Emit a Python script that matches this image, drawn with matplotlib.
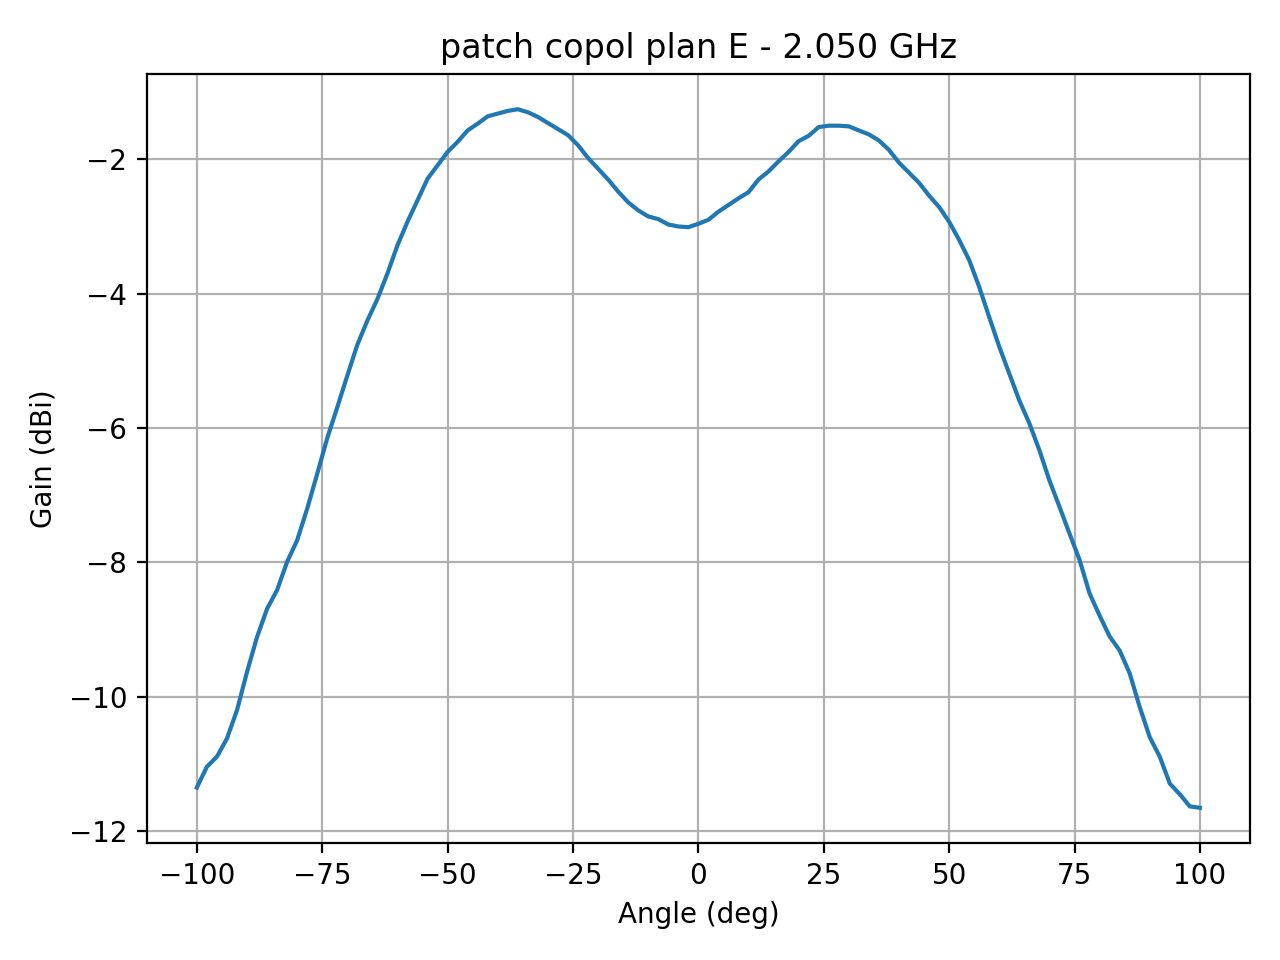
import matplotlib
matplotlib.use('Agg')
from matplotlib import pyplot as plt
import numpy as np

# angle (deg), every 2 deg
angle = list(range(-100, 101, 2))

gain = [-11.35, -11.04, -10.89, -10.62, -10.20, -9.63, -9.11, -8.69, -8.41, -7.99,
        -7.67, -7.20, -6.68, -6.15, -5.69, -5.22, -4.76, -4.40, -4.08, -3.70,
        -3.28, -2.93, -2.61, -2.29, -2.09, -1.89, -1.74, -1.57, -1.47, -1.36,
        -1.32, -1.28, -1.255, -1.30, -1.37, -1.46, -1.55, -1.64, -1.79, -1.98,
        -2.14, -2.30, -2.48, -2.64, -2.76, -2.85, -2.89, -2.97, -3.00, -3.01,
        -2.96, -2.90, -2.78, -2.68, -2.58, -2.49, -2.30, -2.18, -2.03, -1.89,
        -1.73, -1.65, -1.52, -1.50, -1.50, -1.51, -1.57, -1.63, -1.72, -1.86,
        -2.05, -2.20, -2.35, -2.54, -2.71, -2.93, -3.20, -3.50, -3.90, -4.35,
        -4.79, -5.19, -5.59, -5.93, -6.33, -6.78, -7.17, -7.57, -7.96, -8.46,
        -8.79, -9.10, -9.31, -9.65, -10.15, -10.60, -10.89, -11.29, -11.45, -11.63,
        -11.65]

fig, ax = plt.subplots(figsize=(6.4, 4.8), dpi=200)
ax.plot(angle, gain)
ax.set_title('patch copol plan E - 2.050 GHz')
ax.set_xlabel('Angle (deg)')
ax.set_ylabel('Gain (dBi)')
ax.grid(True)
fig.subplots_adjust(left=0.1146, right=0.9766, top=0.9226, bottom=0.1222)
fig.savefig('out.png')
